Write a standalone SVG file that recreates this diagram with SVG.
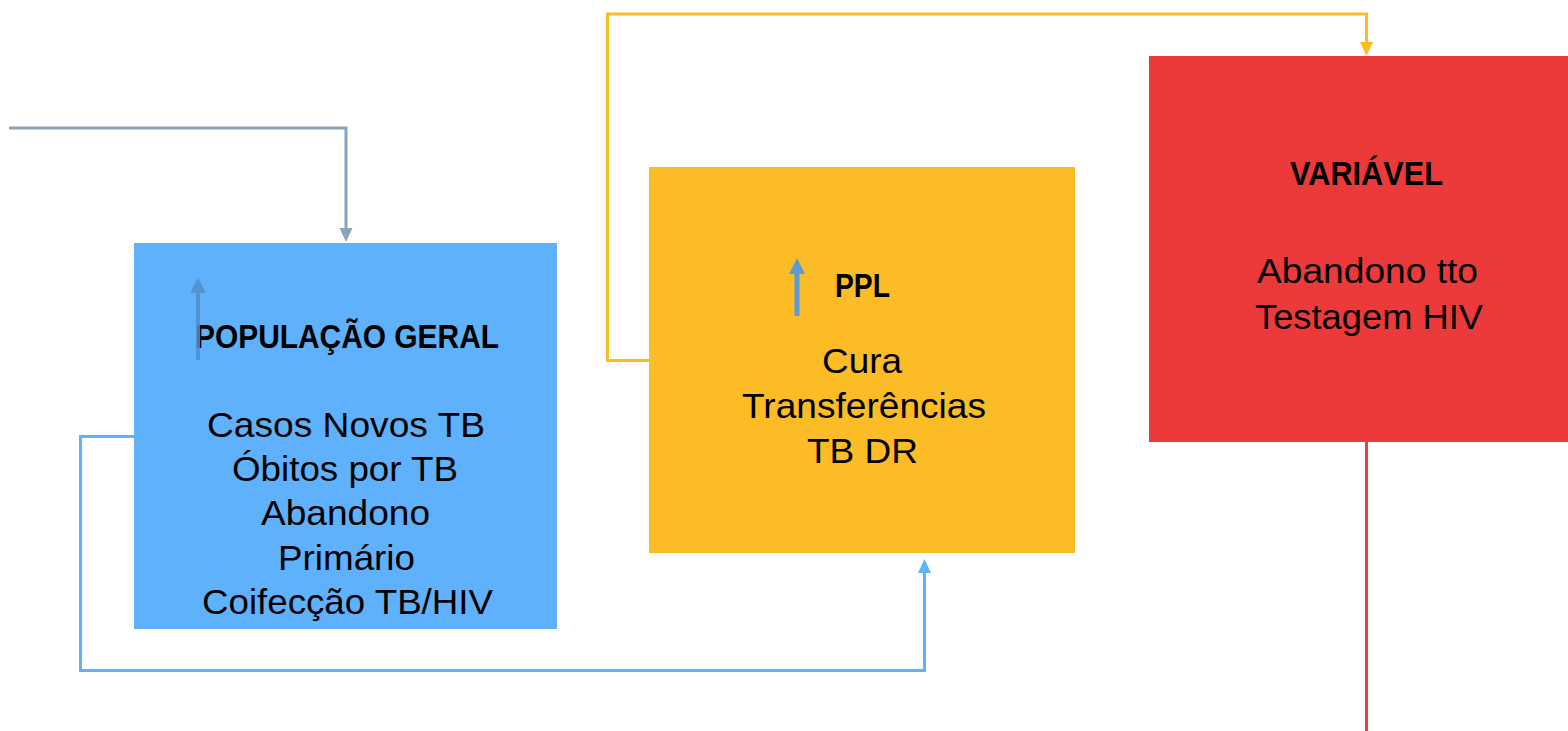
<svg xmlns="http://www.w3.org/2000/svg" width="1568" height="731" viewBox="0 0 1568 731">
<defs>
<style>
.t{font-family:"Liberation Sans",Arial,sans-serif;font-size:35px;fill:#000}
.h{font-family:"Liberation Sans",Arial,sans-serif;font-size:34px;font-weight:bold;fill:#000}
.c{fill:none;stroke-width:3}
</style>
</defs>
<rect width="1568" height="731" fill="#fff"/>
<g id="node-pop">
<rect x="134" y="243" width="423" height="386" fill="#5EB1FA"/>
<text class="h" x="195" y="348" textLength="304" lengthAdjust="spacingAndGlyphs">POPULAÇÃO GERAL</text>
<text class="t" x="207" y="437" textLength="278" lengthAdjust="spacingAndGlyphs">Casos Novos TB</text>
<text class="t" x="232" y="481" textLength="226" lengthAdjust="spacingAndGlyphs">Óbitos por TB</text>
<text class="t" x="261" y="525" textLength="169" lengthAdjust="spacingAndGlyphs">Abandono</text>
<text class="t" x="278" y="570" textLength="137" lengthAdjust="spacingAndGlyphs">Primário</text>
<text class="t" x="202" y="614" textLength="291" lengthAdjust="spacingAndGlyphs">Coifecção TB/HIV</text>
<path d="M196,360 L196,293 L190,293 L198,278 L206,293 L200,293 L200,360 Z" fill="#4F8FCF" fill-opacity="0.85"/>
</g>
<g id="node-ppl">
<rect x="649" y="167" width="426" height="386" fill="#FBBC26"/>
<text class="h" x="835" y="297" textLength="55" lengthAdjust="spacingAndGlyphs">PPL</text>
<text class="t" x="822" y="373" textLength="80" lengthAdjust="spacingAndGlyphs">Cura</text>
<text class="t" x="742" y="418" textLength="244" lengthAdjust="spacingAndGlyphs">Transferências</text>
<text class="t" x="807" y="463" textLength="111" lengthAdjust="spacingAndGlyphs">TB DR</text>
<path d="M794.5,316 L794.5,274 L789,274 L797,258 L805,274 L799.5,274 L799.5,316 Z" fill="#5B9BD5"/>
</g>
<g id="node-var">
<rect x="1149" y="56" width="419" height="386" fill="#EC3A3A"/>
<text class="h" x="1290" y="185" textLength="153" lengthAdjust="spacingAndGlyphs">VARIÁVEL</text>
<text class="t" x="1257" y="283" textLength="221" lengthAdjust="spacingAndGlyphs">Abandono tto</text>
<text class="t" x="1255" y="329" textLength="228" lengthAdjust="spacingAndGlyphs">Testagem HIV</text>
</g>
<g id="connectors">
<path class="c" stroke="#8AA4B8" d="M9,128 L346,128 L346,229"/>
<path d="M339.5,228 L352.5,228 L346,242 Z" fill="#8AA4B8"/>
<path class="c" stroke="#FBBC26" d="M649,360.5 L607.5,360.5 L607.5,14 L1366.5,14 L1366.5,43"/>
<path d="M1360,42 L1373,42 L1366.5,56 Z" fill="#FBBC26"/>
<path class="c" stroke="#5EB2FB" d="M134,436.5 L80.5,436.5 L80.5,670.5 L924.5,670.5 L924.5,572"/>
<path d="M918,573 L931,573 L924.5,559 Z" fill="#5EB2FB"/>
<path class="c" stroke="#E94040" d="M1366.5,442 L1366.5,731"/>
</g>
</svg>
